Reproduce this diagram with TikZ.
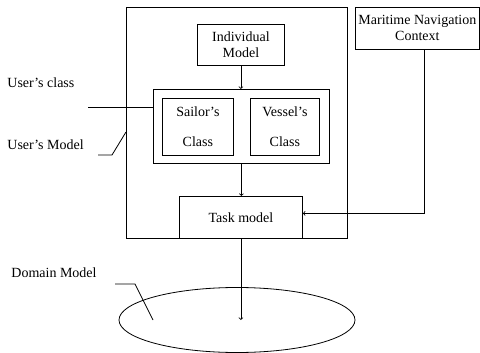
\documentclass[tikz,border=0pt]{standalone}
\usepackage{fontspec}
\setmainfont{Liberation Serif}
\usetikzlibrary{shapes.geometric,positioning}

\begin{document}
\begin{tikzpicture}[
    x=1pt, y=-1pt,
    line width=0.8pt,
    font=\fontsize{14}{16}\selectfont,
    mybox/.style={draw, rectangle, inner sep=0pt, anchor=north west, align=center},
    label/.style={anchor=west, inner sep=0pt}
]
\useasboundingbox (0,0) rectangle (480,353);

% user's model and its parts
\node[mybox, minimum width=221pt, minimum height=231pt] (UM) at (126,7) {};
\node[mybox, minimum width=87pt, minimum height=41pt] (IM) at (197,24) {Individual\\Model};
\node[mybox, minimum width=176pt, minimum height=74pt] (UC) at (153,89) {};
\node[mybox, minimum width=71pt, minimum height=57pt] (SC) at (162,98) {Sailor's\\[14pt]Class};
\node[mybox, minimum width=69pt, minimum height=57pt] (VC) at (250,98) {Vessel's\\[14pt]Class};
\node[mybox, minimum width=123pt, minimum height=42pt] (TM) at (179,196) {Task model};

% context and domain
\node[mybox, minimum width=124pt, minimum height=42pt] (MNC) at (355,7) {Maritime Navigation\\Context};
\node[draw, ellipse, inner sep=0pt, minimum width=236pt, minimum height=65pt] (DM) at (237,320) {};

% labels
\node[label] (ucl) at (7,83) {User's class};
\node[label] (uml) at (7,145) {User's Model};
\node[label] (dml) at (11,273) {Domain Model};

\coordinate (ucend) at (88,107);
\coordinate (umend) at (98,155);
\coordinate (umtip) at (126,132);
\coordinate (dmend) at (115,284);
\coordinate (dmtip) at (153,320);

% connectors
\draw[->] (IM.south) -- (IM.south |- UC.north);
\draw[->] (UC.south) -- (UC.south |- TM.north);
\draw[->] ([xshift=7pt]MNC.south) |- ([yshift=4pt]TM.east);
\draw[->] (TM.south) -- (TM.south |- DM.center);

% leaders
\draw (ucend) -- (ucend -| UC.west);
\draw (umend) -- ++(14,0) -- (umtip);
\draw (dmend) -- ++(20,0) -- (dmtip);
\end{tikzpicture}
\end{document}
